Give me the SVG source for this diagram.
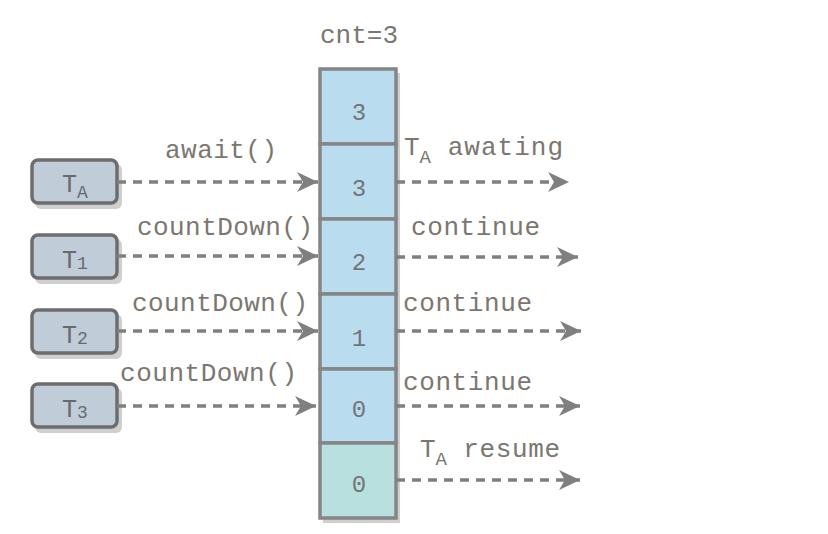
<svg xmlns="http://www.w3.org/2000/svg" width="828" height="534" viewBox="0 0 828 534">
<style>
.lbl{font-family:"Liberation Mono","DejaVu Sans Mono",monospace;font-size:26px;fill:#7c7671}
.num{font-family:"Liberation Mono","DejaVu Sans Mono",monospace;font-size:24px;fill:#727578;text-anchor:middle}
.nt{font-family:"Liberation Mono","DejaVu Sans Mono",monospace;font-size:25px;fill:#666a6e}
.node{fill:#c0ccd7;stroke:#6d6d6d;stroke-width:3.5}
.nshadow{fill:#cfcfcf}
.cell{fill:#b9dcef;stroke:#858585;stroke-width:3.5}
.cell2{fill:#b8e0df;stroke:#858585;stroke-width:3.5}
.conn{fill:none;stroke:#7f7f7f;stroke-width:3.5;stroke-dasharray:9 7;marker-end:url(#ah)}
</style>
<defs>
<marker id="ah" markerUnits="userSpaceOnUse" markerWidth="24" markerHeight="24" viewBox="-22 -11 24 22" refX="0" refY="0" orient="auto">
<path d="M0,0 L-21,-10 L-15,0 L-21,10 Z" fill="#7f7f7f"/>
</marker>
</defs>
<rect width="828" height="534" fill="#ffffff"/>

<text class="lbl" x="320" y="43" textLength="78">cnt=3</text>

<g id="counter">
<rect x="323" y="73" width="77" height="450" fill="#cfcfcf"/>
<rect class="cell" x="320" y="69" width="76" height="75"/>
<rect class="cell" x="320" y="144" width="76" height="75"/>
<rect class="cell" x="320" y="219" width="76" height="75"/>
<rect class="cell" x="320" y="294" width="76" height="75"/>
<rect class="cell" x="320" y="369" width="76" height="74"/>
<rect class="cell2" x="320" y="443" width="76" height="75"/>
<text class="num" x="359" y="120">3</text>
<text class="num" x="359" y="196">3</text>
<text class="num" x="359" y="270">2</text>
<text class="num" x="359" y="346">1</text>
<text class="num" x="359" y="417">0</text>
<text class="num" x="359" y="492">0</text>
</g>

<g id="TA">
<rect class="nshadow" x="35" y="164" width="87" height="45" rx="6"/>
<rect class="node" x="32" y="160" width="85" height="43" rx="6"/>
<text class="nt" x="62" y="192">T<tspan font-size="18" dy="6">A</tspan></text>
</g>
<g id="T1">
<rect class="nshadow" x="35" y="239" width="87" height="45" rx="6"/>
<rect class="node" x="32" y="235" width="85" height="43" rx="6"/>
<text class="nt" x="62" y="268">T<tspan font-size="18" dy="1">1</tspan></text>
</g>
<g id="T2">
<rect class="nshadow" x="35" y="314" width="87" height="45" rx="6"/>
<rect class="node" x="32" y="310" width="85" height="43" rx="6"/>
<text class="nt" x="62" y="343">T<tspan font-size="18" dy="1">2</tspan></text>
</g>
<g id="T3">
<rect class="nshadow" x="35" y="388" width="87" height="45" rx="6"/>
<rect class="node" x="32" y="384" width="85" height="43" rx="6"/>
<text class="nt" x="62" y="417">T<tspan font-size="18" dy="1">3</tspan></text>
</g>

<g id="connectors">
<path class="conn" d="M117,182 H318"/>
<path class="conn" d="M117,256 H318"/>
<path class="conn" d="M117,331 H318"/>
<path class="conn" d="M117,406 H316"/>
<path class="conn" d="M396,182 H569"/>
<path class="conn" d="M396,257 H578"/>
<path class="conn" d="M396,331 H581"/>
<path class="conn" d="M396,406 H580"/>
<path class="conn" d="M396,480 H580"/>
</g>

<g id="labels">
<text class="lbl" x="165" y="158" textLength="112">await()</text>
<text class="lbl" x="137" y="235" textLength="176">countDown()</text>
<text class="lbl" x="132" y="311" textLength="176">countDown()</text>
<text class="lbl" x="120" y="381" textLength="177">countDown()</text>
<text class="lbl" x="404" y="155">T<tspan font-size="19" dy="8">A</tspan><tspan dy="-8" textLength="132"> awating</tspan></text>
<text class="lbl" x="411" y="235" textLength="129">continue</text>
<text class="lbl" x="403" y="311" textLength="129">continue</text>
<text class="lbl" x="403" y="390" textLength="129">continue</text>
<text class="lbl" x="420" y="457">T<tspan font-size="19" dy="8">A</tspan><tspan dy="-8" textLength="113"> resume</tspan></text>
</g>
</svg>
